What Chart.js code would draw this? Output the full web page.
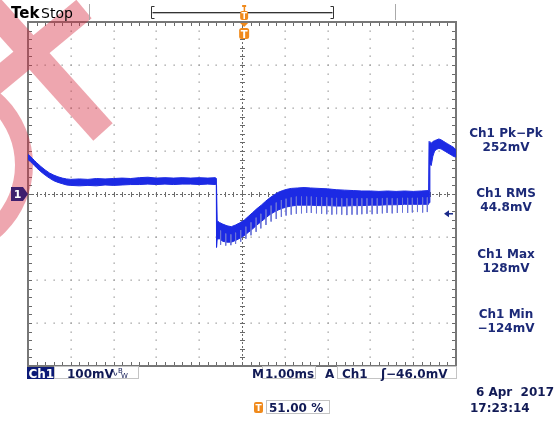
<!DOCTYPE html>
<html><head><meta charset="utf-8">
<script src="https://cdn.jsdelivr.net/npm/chart.js@4/dist/chart.umd.min.js"></script>
<style>html,body{margin:0;padding:0;background:#fff}canvas{display:block}</style>
</head><body>
<canvas id="c" width="560" height="421"></canvas>
<script>
// ---- data (time in ms, value in mV) ----
const timeMs = [0.00,0.05,0.10,0.15,0.20,0.30,0.40,0.50,0.60,0.70,0.80,0.90,1.00,1.20,1.40,1.60,1.80,2.00,2.20,2.40,2.60,2.80,3.00,3.20,3.40,3.60,3.80,4.00,4.20,4.38,4.40,4.405,4.42,4.47,4.55,4.65,4.75,4.85,4.95,5.05,5.15,5.25,5.35,5.45,5.55,5.65,5.75,5.85,5.95,6.05,6.15,6.30,6.45,6.60,6.80,7.00,7.20,7.40,7.60,7.80,8.00,8.20,8.40,8.60,8.80,9.00,9.20,9.36,9.37,9.39,9.42,9.46,9.50,9.55,9.60,9.65,9.70,9.75,9.80,9.85,9.90,9.95,10.00];
const envHigh = [92,88,83,78,73,64,56,49,44,40,37,35,34,35,34,36,35,36,37,36,38,39,37,38,37,38,37,38,37,38,36,36,-62,-66,-70,-74,-76,-72,-67,-61,-52,-43,-34,-26,-17,-9,-2,4,8,11,13,14,15,14,13,12,10,9,8,7,7,6,7,6,7,6,7,8,122,120,118,122,124,126,128,126,123,120,117,114,111,108,102];
const envLow  = [80,76,71,66,61,52,44,37,31,27,24,21,20,19,20,19,21,20,21,22,22,23,22,23,22,23,23,22,23,22,20,-124,-105,-104,-110,-112,-112,-108,-103,-97,-89,-81,-72,-64,-56,-48,-42,-37,-33,-30,-28,-26,-26,-26,-27,-27,-28,-28,-27,-27,-26,-26,-25,-25,-24,-24,-24,-24,-20,70,66,88,100,104,106,105,102,99,96,93,90,87,86];
const spikeT   = [4.50,4.62,4.74,4.85,4.97,5.09,5.21,5.33,5.44,5.56,5.68,5.80,5.92,6.03,6.15,6.27,6.39,6.51,6.62,6.74,6.86,6.98,7.10,7.21,7.33,7.45,7.57,7.69,7.80,7.92,8.04,8.16,8.28,8.39,8.51,8.63,8.75,8.87,8.98,9.10,9.22,9.33];
const spikeTop = [-85,-92,-94,-90,-84,-76,-66,-55,-46,-36,-27,-20,-14,-11,-8,-6,-6,-6,-6,-7,-7,-8,-9,-9,-10,-10,-10,-10,-10,-10,-10,-10,-10,-9,-10,-10,-9,-9,-9,-9,-8,-8];
const spikeLow = [-118,-120,-119,-116,-111,-104,-96,-88,-80,-72,-64,-58,-53,-50,-48,-46,-45,-44,-44,-45,-46,-47,-48,-47,-48,-49,-48,-48,-47,-46,-47,-46,-45,-44,-45,-44,-43,-44,-43,-42,-43,-42];
const divX = [0,1,2,3,4,5,6,7,8,9,10];
const divY = [-400,-300,-200,-100,0,100,200,300,400];
const groundLevel = 0;
const triggerLevel = -46;
const triggerPos = 5.05;
const measLabels = ["Ch1 Pk\u2212Pk","Ch1 RMS","Ch1 Max","Ch1 Min"];
const measValues = ["252mV","44.8mV","128mV","\u2212124mV"];

const BLUE = 'rgb(28,42,228)';
const SPIKE = 'rgba(105,115,215,0.95)';
const NAVY = '#1c2a78';
const ORANGE = '#f08a1c';

const pts = (ys) => timeMs.map((t,i)=>({x:t,y:ys[i]}));
const spikeData = [];
spikeT.forEach((t,i)=>{ spikeData.push({x:t,y:spikeTop[i]},{x:t,y:spikeLow[i]},{x:t,y:null}); });

function rr(ctx,x,y,w,h,r){ctx.beginPath();ctx.moveTo(x+r,y);ctx.lineTo(x+w-r,y);ctx.quadraticCurveTo(x+w,y,x+w,y+r);ctx.lineTo(x+w,y+h-r);ctx.quadraticCurveTo(x+w,y+h,x+w-r,y+h);ctx.lineTo(x+r,y+h);ctx.quadraticCurveTo(x,y+h,x,y+h-r);ctx.lineTo(x,y+r);ctx.quadraticCurveTo(x,y,x+r,y);ctx.closePath();}

const gridPlugin = {
  id:'scopeGrid',
  beforeDatasetsDraw(chart){
    const {ctx, chartArea:a, scales:{x,y}} = chart;
    ctx.save();
    const dx = (x.getPixelForValue(1)-x.getPixelForValue(0))/5;
    const dy = (y.getPixelForValue(0)-y.getPixelForValue(100))/5;
    ctx.fillStyle = '#9a9a9a';
    divX.forEach(d=>{
      if(d===0||d===10||d===5) return;
      const px = Math.round(x.getPixelForValue(d));
      for(let py=a.top; py<=a.bottom; py+=dy) ctx.fillRect(px-0.5, Math.round(py)-0.5, 1.3, 1.3);
    });
    divY.forEach(v=>{
      if(v===-400||v===400||v===0) return;
      const py = Math.round(y.getPixelForValue(v));
      for(let px=a.left; px<=a.right; px+=dx) ctx.fillRect(Math.round(px)-0.5, py-0.5, 1.3, 1.3);
    });
    const cx = Math.round(x.getPixelForValue(5))+0.5, cy = Math.round(y.getPixelForValue(0))+0.5;
    ctx.strokeStyle = '#6a6a6a'; ctx.lineWidth = 1;
    ctx.setLineDash([2,2]);
    ctx.beginPath(); ctx.moveTo(a.left,cy); ctx.lineTo(a.right,cy); ctx.moveTo(cx,a.top); ctx.lineTo(cx,a.bottom); ctx.stroke();
    ctx.setLineDash([]);
    ctx.beginPath();
    for(let px=a.left; px<=a.right+0.1; px+=dx){ const q=Math.round(px)+0.5; ctx.moveTo(q,cy-2.5); ctx.lineTo(q,cy+2.5);}
    for(let py=a.top; py<=a.bottom+0.1; py+=dy){ const q=Math.round(py)+0.5; ctx.moveTo(cx-2.5,q); ctx.lineTo(cx+2.5,q);}
    for(let px=a.left; px<=a.right+0.1; px+=dx){ const q=Math.round(px)+0.5; ctx.moveTo(q,a.top); ctx.lineTo(q,a.top+4); ctx.moveTo(q,a.bottom); ctx.lineTo(q,a.bottom-4);}
    for(let py=a.top; py<=a.bottom+0.1; py+=dy){ const q=Math.round(py)+0.5; ctx.moveTo(a.left,q); ctx.lineTo(a.left+4,q); ctx.moveTo(a.right,q); ctx.lineTo(a.right-4,q);}
    ctx.stroke();
    ctx.strokeStyle = '#777'; ctx.lineWidth = 2;
    ctx.strokeRect(a.left, a.top, a.right-a.left, a.bottom-a.top);
    // watermark (drawn opaque off-screen, then blended once)
    const off = document.createElement('canvas'); off.width = chart.width; off.height = chart.height;
    const o = off.getContext('2d');
    o.fillStyle = 'rgb(215,45,65)';
    const band = (x1,y1,x2,y2,w)=>{ const L=Math.hypot(x2-x1,y2-y1), nx=-(y2-y1)/L*w/2, ny=(x2-x1)/L*w/2;
      o.beginPath(); o.moveTo(x1+nx,y1+ny); o.lineTo(x2+nx,y2+ny); o.lineTo(x2-nx,y2-ny); o.lineTo(x1-nx,y1-ny); o.closePath(); o.fill(); };
    band(-12,4,103,132,26);
    band(84,9,-14,90,24);
    o.beginPath(); o.arc(-62,165,95,0,Math.PI*2); o.arc(-62,165,77,0,Math.PI*2,true); o.fill('evenodd');
    ctx.globalAlpha = 0.42; ctx.drawImage(off,0,0); ctx.globalAlpha = 1;
    ctx.restore();
  },
  afterDraw(chart){
    const {ctx, chartArea:a, scales:{x,y}} = chart;
    ctx.save();
    ctx.textBaseline = 'alphabetic';
    ctx.fillStyle = '#000';
    ctx.font = 'bold 15px "DejaVu Sans"'; ctx.fillText('Tek', 11, 18);
    ctx.font = '14px "DejaVu Sans"'; ctx.fillText('Stop', 41, 18);
    ctx.strokeStyle = '#aaa'; ctx.lineWidth = 1;
    ctx.beginPath(); ctx.moveTo(89.5,4); ctx.lineTo(89.5,20); ctx.moveTo(395.5,4); ctx.lineTo(395.5,20); ctx.stroke();
    ctx.strokeStyle = '#333';
    ctx.beginPath(); ctx.moveTo(152.5,12.5); ctx.lineTo(332.5,12.5);
    ctx.moveTo(154.5,6.5); ctx.lineTo(151.5,6.5); ctx.lineTo(151.5,18.5); ctx.lineTo(154.5,18.5);
    ctx.moveTo(330.5,6.5); ctx.lineTo(333.5,6.5); ctx.lineTo(333.5,18.5); ctx.lineTo(330.5,18.5); ctx.stroke();
    ctx.strokeStyle = '#bbb'; ctx.beginPath(); ctx.moveTo(152.5,13.5); ctx.lineTo(332.5,13.5); ctx.stroke();
    const tx = x.getPixelForValue(triggerPos);
    ctx.fillStyle = ORANGE;
    ctx.fillRect(tx-2, 5, 4, 2); ctx.fillRect(tx-0.5, 7, 1.5, 4);
    rr(ctx, tx-4, 11, 8, 9, 2); ctx.fill();
    ctx.fillStyle = '#fff'; ctx.font = 'bold 8px "DejaVu Sans"'; ctx.textAlign='center'; ctx.fillText('T', tx, 18.5);
    ctx.fillStyle = ORANGE;
    ctx.beginPath(); ctx.moveTo(tx-4,a.top+1); ctx.lineTo(tx+4,a.top+1); ctx.lineTo(tx,a.top+5); ctx.closePath(); ctx.fill();
    rr(ctx, tx-5, a.top+6, 10, 11, 2.5); ctx.fill();
    ctx.fillStyle = '#fff'; ctx.font = 'bold 10px "DejaVu Sans"'; ctx.fillText('T', tx, a.top+15.5);
    const gy = y.getPixelForValue(groundLevel);
    ctx.fillStyle = '#3e1f6e';
    ctx.beginPath(); ctx.moveTo(11,gy-7); ctx.lineTo(23,gy-7); ctx.lineTo(28,gy); ctx.lineTo(23,gy+7); ctx.lineTo(11,gy+7); ctx.closePath(); ctx.fill();
    ctx.fillStyle = '#fff'; ctx.font = 'bold 11px "DejaVu Sans"'; ctx.fillText('1', 17.5, gy+4);
    const ty = y.getPixelForValue(triggerLevel);
    ctx.fillStyle = '#1a2a8a'; ctx.strokeStyle = '#1a2a8a'; ctx.lineWidth = 1.5;
    ctx.beginPath(); ctx.moveTo(444,ty); ctx.lineTo(449,ty-3.5); ctx.lineTo(449,ty+3.5); ctx.closePath(); ctx.fill();
    ctx.beginPath(); ctx.moveTo(448,ty); ctx.lineTo(453,ty); ctx.stroke();
    ctx.fillStyle = NAVY; ctx.font = 'bold 12px "DejaVu Sans"'; ctx.textAlign = 'center';
    const slotY = [137, 197, 258, 318];
    measLabels.forEach((l,i)=>{ ctx.fillText(l, 506, slotY[i]); ctx.fillText(measValues[i], 506, slotY[i]+14); });
    ctx.textAlign = 'left';
    ctx.fillStyle = '#0c1a78'; ctx.fillRect(27, 367, 27, 12);
    ctx.fillStyle = '#fff'; ctx.font = 'bold 12px "DejaVu Sans"'; ctx.fillText('Ch1', 28.5, 377.5);
    ctx.strokeStyle = '#c4c4c4'; ctx.lineWidth = 1;
    ctx.strokeRect(54.5, 366.5, 84, 12);
    ctx.strokeRect(262.5, 366.5, 53, 12);
    ctx.strokeRect(337.5, 366.5, 119, 12);
    ctx.fillStyle = '#111a55'; ctx.font = 'bold 12px "DejaVu Sans"';
    ctx.fillText('100mV', 67, 377.5);
    ctx.font = '10px "DejaVu Sans"'; ctx.fillText('\u223F', 110, 376);
    ctx.font = '7px "DejaVu Sans"'; ctx.fillText('B', 118, 373); ctx.fillText('W', 121, 378);
    ctx.font = 'bold 12px "DejaVu Sans"';
    ctx.fillText('M', 252, 377.5);
    ctx.fillText('1.00ms', 265, 377.5);
    ctx.fillText('A', 325, 377.5);
    ctx.fillText('Ch1', 342, 377.5);
    ctx.fillText('\u0283\u221246.0mV', 381, 377.5);
    ctx.fillStyle = ORANGE; rr(ctx, 254, 402, 9, 11, 2); ctx.fill();
    ctx.fillStyle = '#fff'; ctx.font = 'bold 9px "DejaVu Sans"'; ctx.textAlign='center'; ctx.fillText('T', 258.5, 411);
    ctx.textAlign='left';
    ctx.strokeStyle = '#c4c4c4'; ctx.strokeRect(266.5, 400.5, 63, 13);
    ctx.fillStyle = '#111a55'; ctx.font = 'bold 12px "DejaVu Sans"'; ctx.fillText('51.00 %', 269, 411.5);
    ctx.textAlign='right'; ctx.fillText('6 Apr  2017', 554, 396);
    ctx.textAlign='left'; ctx.fillText('17:23:14', 470, 412);
    ctx.restore();
  }
};

new Chart(document.getElementById('c'), {
  type:'line',
  data:{ datasets:[
    { label:'spikes', data:spikeData, borderColor:SPIKE, borderWidth:1, pointRadius:0, spanGaps:false, fill:false, order:0 },
    { label:'high', data:pts(envHigh), borderColor:BLUE, borderWidth:1, pointRadius:0, fill:false, order:1 },
    { label:'low', data:pts(envLow), borderColor:BLUE, borderWidth:1, pointRadius:0, fill:'-1', backgroundColor:BLUE, order:2 }
  ]},
  options:{
    responsive:false, animation:false, devicePixelRatio:1,
    layout:{ padding:{ left:28, top:22, right:104, bottom:55 } },
    scales:{
      x:{ type:'linear', min:0, max:10, display:false },
      y:{ type:'linear', min:-400, max:400, display:false }
    },
    plugins:{ legend:{display:false}, tooltip:{enabled:false} },
    elements:{ line:{ tension:0 } }
  },
  plugins:[gridPlugin]
});
</script>
</body></html>
